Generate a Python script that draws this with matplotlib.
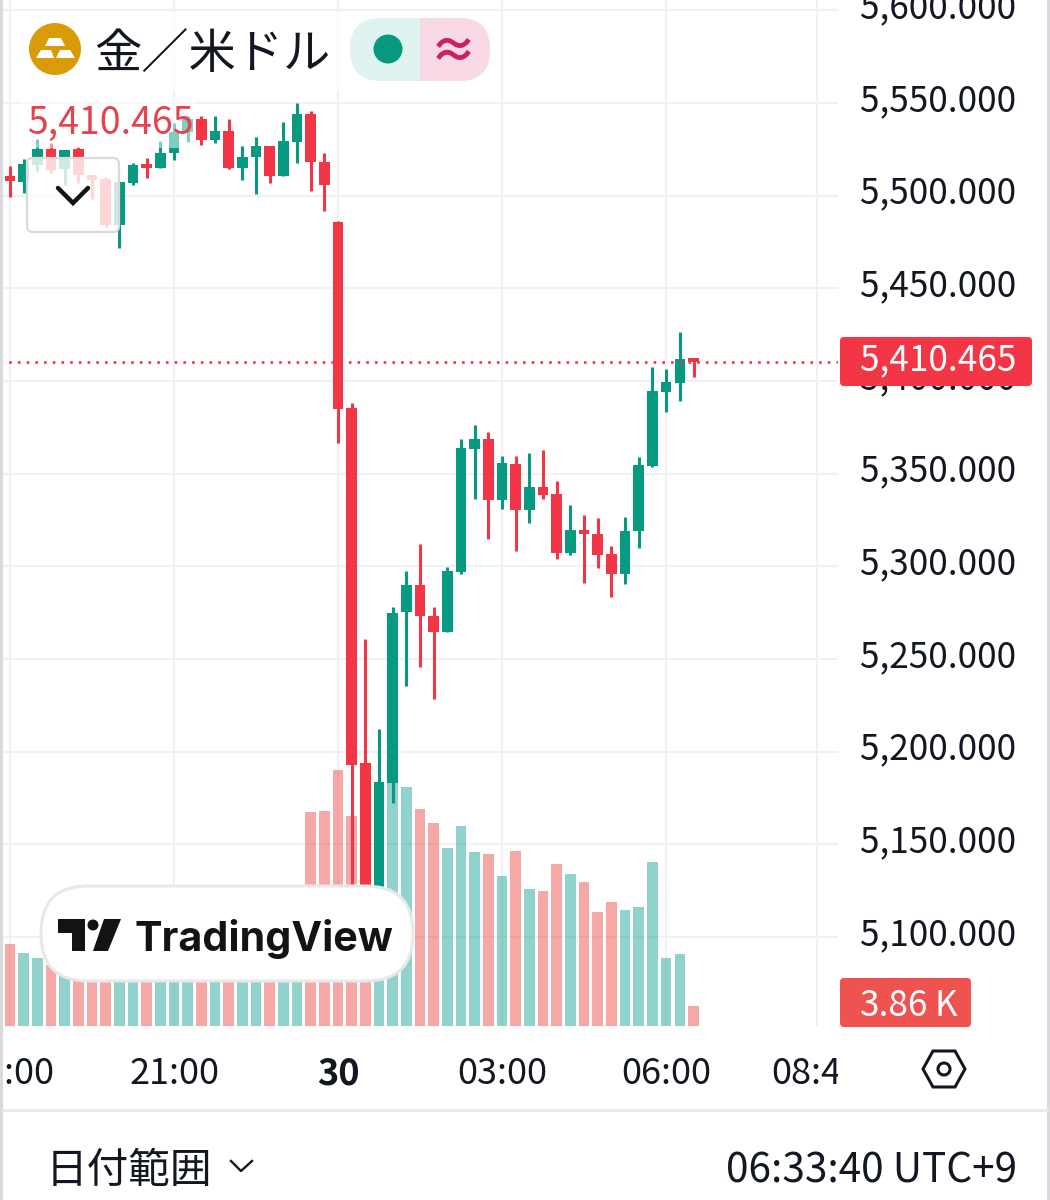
import matplotlib
matplotlib.use("Agg")
import matplotlib.pyplot as plt
from matplotlib.patches import Rectangle, Circle, Polygon, FancyBboxPatch
from matplotlib.transforms import Bbox, IdentityTransform, ScaledTranslation, TransformedBbox

plt.rcParams["font.family"] = ["Noto Sans CJK JP", "DejaVu Sans"]

# ── Data (15 min candles, 18:00 → 06:30) ──────────────────────────────────────
opens = [5510.6, 5507.4, 5516.6, 5525.2, 5514.4, 5525.2, 5511.2, 5509.0, 5484.2, 5506.9,
         5517.1, 5515.0, 5523.0, 5534.4, 5541.4, 5530.1, 5534.9, 5515.0, 5520.9, 5526.8,
         5510.6, 5529.0, 5544.1, 5518.2, 5485.8, 5385.4, 5193.9, 5120.0, 5183.1, 5275.4,
         5289.9, 5273.2, 5264.6, 5296.9, 5363.3, 5368.7, 5335.8, 5355.2, 5330.4, 5342.8,
         5339.0, 5307.2, 5319.6, 5317.5, 5306.7, 5295.9, 5319.1, 5354.2, 5394.1, 5398.9,
         5412.4]
highs = [5516.0, 5519.8, 5530.6, 5528.4, 5524.7, 5526.3, 5511.2, 5510.1, 5507.4, 5517.6,
         5520.3, 5529.5, 5539.2, 5543.0, 5543.0, 5543.0, 5541.4, 5526.8, 5531.7, 5526.8,
         5539.8, 5550.0, 5545.7, 5523.0, 5486.4, 5388.1, 5260.8, 5212.2, 5278.1, 5297.5,
         5312.1, 5278.1, 5299.7, 5368.7, 5376.3, 5372.5, 5359.5, 5359.5, 5361.2, 5362.8,
         5346.1, 5333.1, 5327.7, 5326.1, 5311.0, 5326.6, 5359.0, 5407.6, 5406.5, 5426.5,
         5412.4]
lows = [5499.3, 5501.5, 5513.3, 5512.3, 5505.8, 5506.9, 5498.2, 5483.1, 5471.8, 5505.8,
        5509.6, 5515.0, 5519.3, 5529.0, 5527.4, 5528.4, 5514.4, 5508.5, 5500.9, 5506.9,
        5510.6, 5517.6, 5502.5, 5491.7, 5366.6, 5125.4, 5115.0, 5115.0, 5172.3, 5235.4,
        5245.7, 5228.4, 5264.6, 5295.9, 5336.3, 5314.8, 5330.9, 5308.3, 5323.4, 5336.3,
        5304.0, 5306.1, 5291.0, 5299.1, 5283.5, 5290.5, 5309.9, 5353.6, 5383.3, 5389.2,
        5402.2]
closes = [5507.9, 5517.1, 5525.2, 5513.9, 5524.7, 5511.2, 5508.5, 5484.2, 5507.4, 5516.6,
          5515.0, 5523.0, 5534.4, 5541.4, 5530.1, 5534.9, 5515.0, 5520.9, 5526.8, 5510.6,
          5529.5, 5544.1, 5518.2, 5505.8, 5384.9, 5192.8, 5120.0, 5183.6, 5274.8, 5289.9,
          5273.2, 5264.6, 5297.5, 5363.9, 5368.7, 5335.8, 5355.8, 5330.4, 5342.8, 5338.5,
          5307.2, 5319.6, 5317.5, 5306.1, 5295.9, 5319.1, 5354.7, 5394.6, 5399.5, 5411.9,
          5410.465]
volumes = [15.8, 14.1, 13.1, 11.8, 10.2, 9.8, 10.4, 9.9, 10.6, 10.1,
           9.7, 10.3, 10.8, 10.2, 9.9, 10.5, 9.8, 10.4, 10.9, 10.2,
           10.7, 11.6, 41.3, 41.5, 49.4, 40.5, 40.0, 45.0, 47.0, 46.1,
           41.9, 39.2, 34.4, 38.6, 33.6, 33.2, 29.0, 33.8, 26.4, 26.1,
           31.3, 29.3, 27.8, 22.0, 23.9, 22.4, 23.0, 31.7, 13.1, 13.9,
           3.86]

price_ticks = [5100, 5150, 5200, 5250, 5300, 5350, 5400, 5450, 5500, 5550, 5600]
time_pos = [0, 12, 24, 36, 48, 59]
time_labels = ["18:00", "21:00", "30", "03:00", "06:00", "08:45"]
last_price = 5410.465

RED, GREEN = "#F23645", "#089981"
VOL_RED, VOL_GREEN = "#EF5350", "#26A69A"
INK = "#131722"
GRID = "#F0F1F4"

W, H = 1050, 1200
PANE_W, PANE_B = 838, 1026   # konec grafu v pixelech

fig = plt.figure(figsize=(W / 100, H / 100), dpi=100, facecolor="white")
pane = [0, 1 - PANE_B / H, PANE_W / W, PANE_B / H]


def layer(z):
    a = fig.add_axes(pane, zorder=z)
    a.set_xlim(-0.7316, 60.57)
    a.patch.set_visible(False)
    return a


# ── Mřížka a osy ──────────────────────────────────────────────────────────────
ax = layer(1)
ax.set_ylim(5051.98, 5605.6)
for s in ax.spines.values():
    s.set_visible(False)
ax.set_yticks(price_ticks)
ax.set_yticklabels([f"{p:,.3f}" for p in price_ticks], fontsize=25.3, color=INK)
ax.yaxis.tick_right()
ax.tick_params(axis="y", length=0, pad=16)
ax.set_xticks(time_pos)
ax.set_xticklabels(time_labels, fontsize=26, color=INK)
ax.tick_params(axis="x", length=0, pad=21.5)
ax.grid(True, color=GRID, lw=1.5)
ax.set_axisbelow(True)

shift = ScaledTranslation(0, 4.3 / 72, fig.dpi_scale_trans)
for lab in ax.get_yticklabels():
    lab.set_transform(lab.get_transform() + shift)
clip = TransformedBbox(Bbox([[3, 0], [PANE_W, H]]), IdentityTransform())
for lab in ax.get_xticklabels():
    lab.set_clip_box(clip)
    lab.set_clip_on(True)
    if lab.get_text() == "30":
        lab.set_fontweight("bold")

idx = list(range(len(closes)))
up = [c >= o for o, c in zip(opens, closes)]

# ── Objemy ────────────────────────────────────────────────────────────────────
ax_vol = layer(2)
ax_vol.axis("off")
ax_vol.set_ylim(0, 198)
ax_vol.bar(idx, volumes, width=0.78, alpha=0.5,
           color=[VOL_GREEN if u else VOL_RED for u in up])

# ── Svíčky ────────────────────────────────────────────────────────────────────
ax_c = layer(3)
ax_c.axis("off")
ax_c.set_ylim(ax.get_ylim())
colors = [GREEN if u else RED for u in up]
ax_c.vlines(idx, lows, highs, colors=colors, lw=2.2)
ax_c.bar(idx, [abs(c - o) for o, c in zip(opens, closes)],
         bottom=[min(o, c) for o, c in zip(opens, closes)],
         width=0.78, color=colors)
ax_c.axhline(last_price, color=RED, lw=1.9, ls=(0, (1.0, 2.3)))

# ── UI vrstva v pixelech ──────────────────────────────────────────────────────
ui = fig.add_axes([0, 0, 1, 1], zorder=5)
ui.set_xlim(0, W)
ui.set_ylim(H, 0)
ui.axis("off")


def rbox(x0, y0, x1, y1, r, **kw):
    p = FancyBboxPatch((x0, y0), x1 - x0, y1 - y0,
                       boxstyle=f"round,pad=0,rounding_size={r}", **kw)
    ui.add_patch(p)
    return p


# okrajové pruhy
ui.add_patch(Rectangle((0, 0), 3, H, color="#D9D9DE", lw=0))
ui.add_patch(Rectangle((W - 3, 0), 3, H, color="#D9D9DE", lw=0))
ui.plot([3, W - 3], [1110, 1110], color="#E8E8E8", lw=2)

# hlavička
ui.add_patch(Rectangle((20, 12), 475, 78, color="white", alpha=0.85, lw=0))
ui.add_patch(Circle((55, 49), 26, color="#D99C08", lw=0))
ui.add_patch(Polygon([(49, 38), (61, 38), (65, 46), (45, 46)], color="white", lw=0))
ui.add_patch(Polygon([(41, 50), (51, 50), (54, 58), (36, 58)], color="white", lw=0))
ui.add_patch(Polygon([(60, 50), (70, 50), (75, 58), (56, 58)], color="white", lw=0))
ui.text(94, 56, "金／米ドル", fontsize=34, color=INK, va="center", ha="left")
pill_l = rbox(350, 18, 490, 81, 31, fc="#DFF3F0", ec="none", lw=0)
pill_r = Rectangle((420, 18), 70, 63, color="#F9D9E5", lw=0)
ui.add_patch(pill_r)
pill_r.set_clip_path(pill_l.get_path(), pill_l.get_transform())
ui.add_patch(Circle((388, 49), 14.5, color=GREEN, lw=0))
ui.text(453, 53, "≈", fontsize=34, color="#CC2264", fontweight="bold", ha="center", va="center")

# poslední cena nad grafem
ui.add_patch(Rectangle((20, 97), 176, 51, color="white", alpha=0.5, lw=0))
ui.text(27, 123, "5,410.465", fontsize=27, color="#E5434F", va="center", ha="left")

# rozbalovací tlačítko
rbox(27, 158, 119, 232, 6, fc=(1, 1, 1, 0.8), ec="#D9D9D9", lw=1.6)
ui.plot([58, 73, 88], [188, 203, 188], color="#131313", lw=3.2, solid_capstyle="round",
        solid_joinstyle="miter")

# logo
rbox(41, 886, 413, 981, 47, fc="white", ec="#E8E8E8", lw=2.2)
ui.add_patch(Polygon([(58, 919), (85, 919), (85, 951), (72, 951), (72, 933), (58, 933)],
                     color="#131313", lw=0))
ui.add_patch(Circle((93, 925), 5.5, color="#131313", lw=0))
ui.add_patch(Polygon([(104, 919), (121, 919), (108, 951), (93, 951)], color="#131313", lw=0))
ui.text(134, 939, "TradingView", fontsize=29.7, family="Inter", fontweight="bold",
        color="#131313", va="center", ha="left")

# cenové štítky
rbox(840, 337, 1032, 386, 4, fc=RED, ec="none", lw=0)
ui.text(938, 360, "5,410.465", fontsize=25.3, color="white", ha="center", va="center")
rbox(840, 978, 971, 1027, 4, fc=VOL_RED, ec="none", lw=0)
ui.text(860, 1006, "3.86", fontsize=25.3, color="white", ha="left", va="center")
ui.text(934, 1006, "K", fontsize=25.3, color="white", ha="left", va="center")

# nastavení
ui.add_patch(Polygon([(923, 1069), (933, 1051), (955, 1051), (965, 1069), (955, 1087), (933, 1087)],
                     fc="none", ec=INK, lw=2.2))
ui.add_patch(Circle((944, 1069), 6, fc="none", ec=INK, lw=2.2))

# spodní lišta
ui.text(46, 1172, "日付範囲", fontsize=30, color=INK, va="center", ha="left")
ui.plot([231, 241, 252], [1161, 1171, 1161], color=INK, lw=1.7)
ui.text(1017, 1171, "06:33:40 UTC+9", fontsize=29.2, color=INK, va="center", ha="right")

fig.savefig("out.png", dpi=100)
